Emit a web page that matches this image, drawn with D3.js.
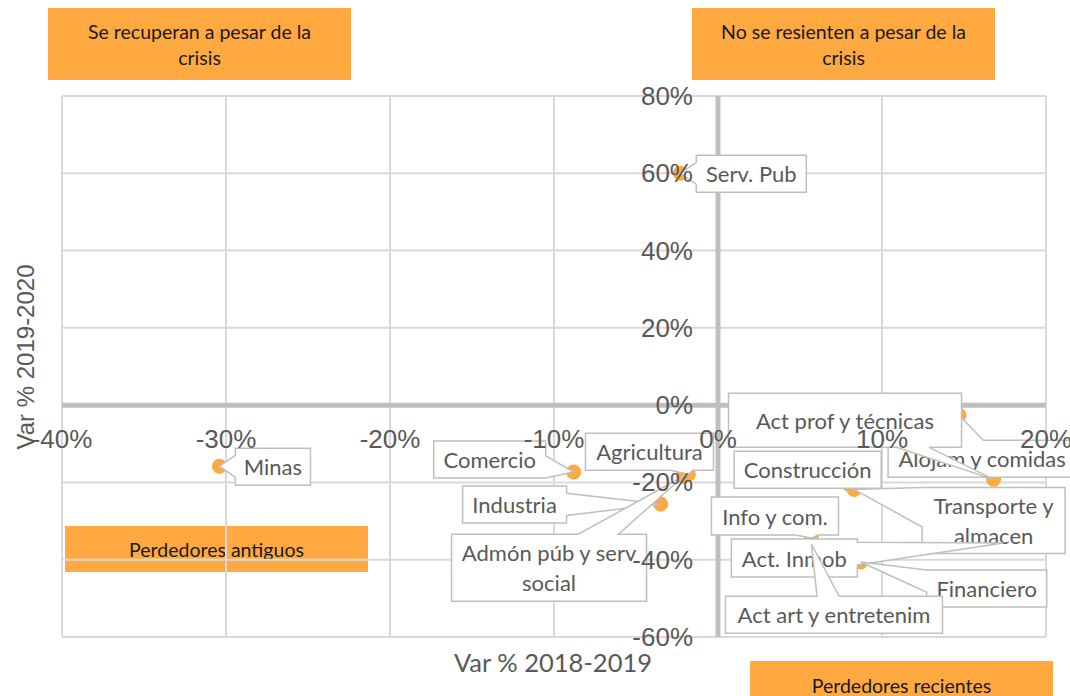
<!DOCTYPE html>
<html>
<head>
<meta charset="utf-8">
<script src="https://cdn.jsdelivr.net/npm/d3@7"></script>
<style>
  body { margin: 0; background: #fff; }
  svg { display: block; }
</style>
</head>
<body>
<script>
(function (){

    //data
    var sectors = ["Minas", "Serv. Pub", "Comercio", "Agricultura", "Industria", "Admón púb y serv\nsocial",
        "Alojam y comidas", "Act prof y técnicas", "Construcción", "Transporte y\nalmacen", "Info y com.",
        "Act. Inmob", "Financiero", "Act art y entretenim"];
    var var1819 = [-30.4, -2.3, -8.8, -1.8, -3.5, -2.1, 14.7, 16.8, 8.0, 8.3, 5.7, 17.4, 8.7, 5.7];   //Var % 2018-2019
    var var1920 = [-15.8, 60.0, -17.3, -17.9, -25.6, -18.4, -2.6, -19.2, -20.5, -21.8, -34.4, -35.7, -40.6, -36.0]; //Var % 2019-2020
    var xTicks = [-40, -30, -20, -10, 0, 10, 20];
    var yTicks = [-60, -40, -20, 0, 20, 40, 60, 80];
    var quadrantText = ["Se recuperan a pesar de la\ncrisis", "No se resienten a pesar de la\ncrisis",
        "Perdedores antiguos", "Perdedores recientes"];

    //callout boxes: offset from the point and box size (layout only)
    var calloutLayout = [
        [16, -18, 75, 37], [16, -18, 110, 37], [-140, -31, 112, 37], [-103, -41, 128, 37],
        [-198, -18, 104, 37], [-232, 58, 195, 67], [-71, 25, 188, 37], [-265, -86, 233, 54],
        [-115, -33, 147, 37], [68, -2, 143, 66], [-100, -41, 127, 38], [-272, -4, 126, 38],
        [66, 8, 120, 37], [-86, 52, 217, 37]
    ];
    //quadrant label boxes [x, y, w, h]
    var quadrantLayout = [[48, 8, 303, 72], [692, 8, 303, 72], [65, 526, 303, 46], [750, 661, 303, 40]];

    var width = 1070, height = 696;
    var orange = "#FFA940", gridColor = "#D9D9D9", axisColor = "#BFBFBF", textColor = "#595959";

    var svg = d3.select("body")
        .append("svg")
        .attr("width", width)
        .attr("height", height);

    //scales
    var x = d3.scaleLinear().domain([-40, 20]).range([62, 1046]);
    var y = d3.scaleLinear().domain([-60, 80]).range([637, 96]);

    //quadrant labels
    var quads = svg.selectAll(".quad")
        .data(quadrantText)
        .enter()
        .append("g")
        .attr("class", "quad");
    quads.append("rect")
        .attr("x", function(d, i){ return quadrantLayout[i][0]; })
        .attr("y", function(d, i){ return quadrantLayout[i][1]; })
        .attr("width", function(d, i){ return quadrantLayout[i][2]; })
        .attr("height", function(d, i){ return quadrantLayout[i][3]; })
        .style("fill", orange);
    quads.each(function(d, i){
        var lines = d.split("\n"),
            b = quadrantLayout[i],
            cy = i == 3 ? b[1] + 24 : b[1] + b[3] / 2;
        d3.select(this).selectAll("text")
            .data(lines)
            .enter()
            .append("text")
            .attr("x", b[0] + b[2] / 2)
            .attr("y", function(t, j){ return cy + (j - (lines.length - 1) / 2) * 26; })
            .attr("text-anchor", "middle")
            .attr("dominant-baseline", "central")
            .style("font-family", "Lato, 'Open Sans', sans-serif")
            .style("font-size", "19.5px")
            .style("fill", "#1a1a1a")
            .text(function(t){ return t; });
    });

    //gridlines
    svg.selectAll(".vgrid")
        .data(xTicks)
        .enter()
        .append("line")
        .attr("x1", function(d){ return x(d); })
        .attr("x2", function(d){ return x(d); })
        .attr("y1", y(80))
        .attr("y2", y(-60))
        .style("stroke", gridColor)
        .style("stroke-width", 2);
    svg.selectAll(".hgrid")
        .data(yTicks)
        .enter()
        .append("line")
        .attr("y1", function(d){ return y(d); })
        .attr("y2", function(d){ return y(d); })
        .attr("x1", x(-40))
        .attr("x2", x(20))
        .style("stroke", gridColor)
        .style("stroke-width", 2);

    //zero axes
    svg.append("line")
        .attr("x1", x(-40)).attr("x2", x(20))
        .attr("y1", y(0)).attr("y2", y(0))
        .style("stroke", axisColor).style("stroke-width", 5);
    svg.append("line")
        .attr("x1", x(0)).attr("x2", x(0))
        .attr("y1", y(80)).attr("y2", y(-60))
        .style("stroke", axisColor).style("stroke-width", 5);

    //points
    var pts = sectors.map(function(s, i){
        return { name: s, px: x(var1819[i]), py: y(var1920[i]), box: calloutLayout[i] };
    });
    svg.selectAll(".dot")
        .data(pts)
        .enter()
        .append("circle")
        .attr("class", "dot")
        .attr("cx", function(d){ return d.px; })
        .attr("cy", function(d){ return d.py; })
        .attr("r", 7.5)
        .style("fill", orange);

    //callout outline: box with a wedge pointing at the dot
    function calloutPath(d){
        var l = d.px + d.box[0], t = d.py + d.box[1],
            r = l + d.box[2], b = t + d.box[3],
            cx = (l + r) / 2, cy = (t + b) / 2,
            p = [d.px, d.py];
        var corners = [[l, t], [r, t], [r, b], [l, b]];
        if (d.px > l && d.px < r && d.py > t && d.py < b){
            return "M" + corners.join("L") + "Z";
        }
        var dx = d.px - cx, dy = d.py - cy,
            tx = dx != 0 ? (d.box[2] / 2) / Math.abs(dx) : Infinity,
            ty = dy != 0 ? (d.box[3] / 2) / Math.abs(dy) : Infinity,
            half = Math.max(7, d.box[3] * 0.3),
            pts;
        if (ty < tx){
            var bx = Math.max(l + half, Math.min(r - half, cx + dx * ty));
            if (dy < 0){
                pts = [[l, t], [bx - half, t], p, [bx + half, t], [r, t], [r, b], [l, b]];
            } else {
                pts = [[l, t], [r, t], [r, b], [bx + half, b], p, [bx - half, b], [l, b]];
            }
        } else {
            var by = Math.max(t + half, Math.min(b - half, cy + dy * tx));
            if (dx > 0){
                pts = [[l, t], [r, t], [r, by - half], p, [r, by + half], [r, b], [l, b]];
            } else {
                pts = [[l, t], [r, t], [r, b], [l, b], [l, by + half], p, [l, by - half]];
            }
        }
        return "M" + pts.join("L") + "Z";
    }

    var callouts = svg.selectAll(".callout")
        .data(pts)
        .enter()
        .append("g")
        .attr("class", "callout");
    callouts.append("path")
        .attr("d", calloutPath)
        .style("fill", "#fff")
        .style("stroke", axisColor)
        .style("stroke-width", 1.5);
    callouts.each(function(d){
        var lines = d.name.split("\n"),
            cx = d.px + d.box[0] + d.box[2] / 2,
            cy = d.py + d.box[1] + d.box[3] / 2;
        d3.select(this).selectAll("text")
            .data(lines)
            .enter()
            .append("text")
            .attr("x", cx)
            .attr("y", function(t, j){ return cy + (j - (lines.length - 1) / 2) * 30; })
            .attr("text-anchor", "middle")
            .attr("dominant-baseline", "central")
            .style("font-family", "Lato, 'Open Sans', sans-serif")
            .style("font-size", "22px")
            .style("fill", textColor)
            .text(function(t){ return t; });
    });

    //tick labels (drawn on top, as in the source)
    svg.selectAll(".xlabel")
        .data(xTicks)
        .enter()
        .append("text")
        .attr("x", function(d){ return x(d); })
        .attr("y", y(0) + 34)
        .attr("text-anchor", "middle")
        .attr("dominant-baseline", "central")
        .style("font-family", "'Liberation Sans', Arial, sans-serif")
        .style("font-size", "26px")
        .style("fill", textColor)
        .text(function(d){ return d + "%"; });
    svg.selectAll(".ylabel")
        .data(yTicks)
        .enter()
        .append("text")
        .attr("x", x(0) - 25)
        .attr("y", function(d){ return y(d); })
        .attr("text-anchor", "end")
        .attr("dominant-baseline", "central")
        .style("font-family", "'Liberation Sans', Arial, sans-serif")
        .style("font-size", "26px")
        .style("fill", textColor)
        .text(function(d){ return d + "%"; });

    //axis titles
    svg.append("text")
        .attr("x", 553)
        .attr("y", 662)
        .attr("text-anchor", "middle")
        .attr("dominant-baseline", "central")
        .style("font-family", "Lato, 'Open Sans', sans-serif")
        .style("font-size", "25.5px")
        .style("fill", textColor)
        .text("Var % 2018-2019");
    svg.append("text")
        .attr("transform", "translate(25,357) rotate(-90)")
        .attr("text-anchor", "middle")
        .attr("dominant-baseline", "central")
        .style("font-family", "'Liberation Sans', Arial, sans-serif")
        .style("font-size", "24px")
        .style("fill", textColor)
        .text("Var % 2019-2020");

})();
</script>
</body>
</html>
